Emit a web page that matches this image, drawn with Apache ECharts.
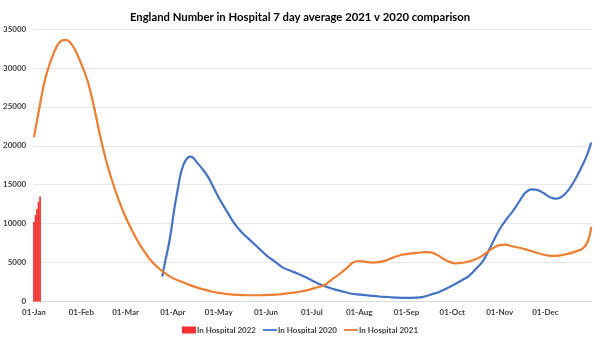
<!DOCTYPE html>
<html><head><meta charset="utf-8">
<script src="https://cdn.jsdelivr.net/npm/echarts@6/dist/echarts.min.js"></script>
<style>html,body{margin:0;padding:0;background:#fff}#c{width:600px;height:338px}</style>
</head><body><div id="c"></div>
<script>
// x = day of year (0 = 01-Jan)
const monthStarts = [0,31,60,91,121,152,182,213,244,274,305,335];
const monthLabels = ['01-Jan','01-Feb','01-Mar','01-Apr','01-May','01-Jun','01-Jul','01-Aug','01-Sep','01-Oct','01-Nov','01-Dec'];
const yTicks = [0,5000,10000,15000,20000,25000,30000,35000];

const days2022 = [0,1,2,3,4];
const vals2022 = [10200,11100,11900,12800,13500];

const days2020 = [84,86,88,90,92,94,96,98,100,102,104,107,110,114,118,122,126,131,136,142,148,153,158,163,168,173,178,183,188,193,198,203,208,214,220,226,232,238,244,250,255,260,265,270,275,280,285,290,294,298,302,306,310,314,318,322,326,330,334,338,342,346,350,354,358,362,365];
const vals2020 = [3200,5200,7000,9300,12000,14200,16300,17600,18300,18600,18500,17800,17100,16000,14500,13000,11700,10100,8900,7800,6700,5800,5100,4350,3950,3550,3100,2600,2150,1800,1500,1250,1000,880,760,640,580,490,460,490,600,900,1200,1650,2150,2700,3300,4300,5200,6600,8200,9600,10700,11700,12900,14000,14400,14300,13900,13400,13200,13500,14300,15500,17000,18700,20400];

const days2021 = [0,3,7,11,15,18,21,24,27,31,35,39,43,47,51,55,59,63,67,71,76,81,86,91,96,101,106,111,116,121,127,133,140,148,155,162,168,174,180,185,190,195,200,205,209,213,217,221,226,231,236,241,246,251,256,260,264,268,272,276,280,284,289,293,297,301,305,309,313,318,322,327,332,337,342,347,352,356,359,362,364,365];
const vals2021 = [21100,24300,28300,30900,32800,33500,33600,33200,32300,30500,28400,25300,21600,18300,15600,13300,11300,9600,8100,6800,5400,4400,3600,3000,2600,2200,1850,1550,1300,1100,950,850,800,800,850,950,1100,1250,1500,1800,2100,2800,3500,4300,5000,5200,5100,5000,5050,5300,5700,6000,6150,6250,6350,6300,6000,5500,5100,4900,4950,5100,5400,5800,6350,6900,7250,7300,7100,6900,6700,6400,6100,5900,5850,6000,6250,6500,6750,7400,8500,9600];

const zip = (a,b) => a.map((d,i)=>[d,b[i]]);
const chart = echarts.init(document.getElementById('c'), null, {renderer:'canvas'});
const FONT = 'Lato';
const lblFont = {fontFamily:FONT, fontSize:8, fontWeight:'bold', color:'#404040'};
const lineIcon = 'path://M0,0M0,2.6H14V4.4H0ZM14,7';
chart.setOption({
  animation:false,
  title:{text:'England Number in Hospital 7 day average 2021 v 2020 comparison', left:'center', top:7,
    textStyle:{fontFamily:FONT, fontSize:11.3, fontWeight:'bold', color:'#000'}},
  grid:{left:31, right:8, top:29, bottom:36.5},
  xAxis:{type:'value', min:-0.5, max:365.5,
    axisLine:{show:true, lineStyle:{color:'#d9d9d9'}}, axisTick:{show:false}, splitLine:{show:false},
    axisLabel:Object.assign({customValues:monthStarts, margin:7, formatter:v=>monthLabels[monthStarts.indexOf(Math.round(v))]||''}, lblFont)},
  yAxis:{type:'value', min:0, max:35000, interval:5000,
    axisLine:{show:false}, axisTick:{show:false},
    splitLine:{lineStyle:{color:'#e6e6e6'}},
    axisLabel:Object.assign({margin:7, formatter:v=>String(v)}, lblFont)},
  legend:{top:321, left:'center', itemWidth:14, itemHeight:7, itemGap:7,
    textStyle:Object.assign({}, lblFont, {color:'#404040', padding:[0,0,0,-4]}),
    data:[{name:'In Hospital 2022', icon:'rect'},{name:'In Hospital 2020', icon:lineIcon},{name:'In Hospital 2021', icon:lineIcon}]},
  series:[
    {name:'In Hospital 2022', type:'bar', data:zip(days2022, vals2022), barWidth:1.7, itemStyle:{color:'#f03030'}},
    {name:'In Hospital 2020', type:'line', data:zip(days2020, vals2020), symbol:'none', smooth:0.4,
      lineStyle:{width:2.2, color:'#4472C4'}, itemStyle:{color:'#4472C4'}},
    {name:'In Hospital 2021', type:'line', data:zip(days2021, vals2021), symbol:'none', smooth:0.4,
      lineStyle:{width:2.2, color:'#ED7D31'}, itemStyle:{color:'#ED7D31'}}
  ]
});
</script></body></html>
